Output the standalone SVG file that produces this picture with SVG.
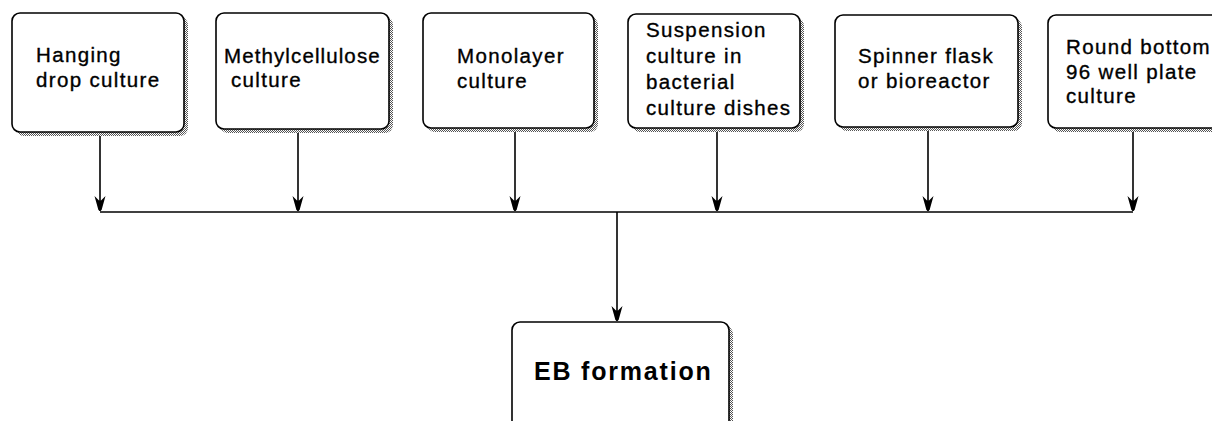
<svg xmlns="http://www.w3.org/2000/svg" width="1212" height="421" viewBox="0 0 1212 421">
<defs>
<pattern id="dots" width="2" height="2" patternUnits="userSpaceOnUse">
<rect width="2" height="2" fill="#fff"/>
<rect width="1" height="1" fill="#555"/>
<rect x="1" y="1" width="1" height="1" fill="#555"/>
</pattern>
<marker id="arr" markerWidth="16" markerHeight="14" viewBox="-16 -7 16 14" refX="0" refY="0" markerUnits="userSpaceOnUse" orient="auto">
<path d="M-15,-5.5 L-10.5,-1 L-10.5,1 L-15,5.5 L-1,1.6 L0,0 L-1,-1.6 Z" fill="#000"/>
</marker>
<style>
.box{fill:#fff;stroke:#000;stroke-width:1.6}
.sh{fill:url(#dots);stroke:none}
.t{font-family:"Liberation Sans",Arial,sans-serif;font-size:20.5px;letter-spacing:1.35px;fill:#000;stroke:#000;stroke-width:0.35}
.tb{font-family:"Liberation Sans",Arial,sans-serif;font-size:25px;font-weight:bold;letter-spacing:1.8px;fill:#000}
.ln{stroke:#000;stroke-width:1.6;fill:none}
</style>
</defs>
<rect width="1212" height="421" fill="#fff"/>
<g id="n1">
<rect class="sh" x="16" y="17" width="172" height="119" rx="8"/>
<rect class="box" x="12" y="13" width="172" height="119" rx="8"/>
<text class="t" x="36" y="62">Hanging</text>
<text class="t" x="36" y="87">drop culture</text>
</g>
<g id="n2">
<rect class="sh" x="220" y="17" width="173" height="116" rx="8"/>
<rect class="box" x="216" y="13" width="173" height="116" rx="8"/>
<text class="t" x="224" y="63" textLength="157" lengthAdjust="spacing">Methylcellulose</text>
<text class="t" x="231" y="87">culture</text>
</g>
<g id="n3">
<rect class="sh" x="427" y="17" width="171" height="115" rx="8"/>
<rect class="box" x="423" y="13" width="171" height="115" rx="8"/>
<text class="t" x="457" y="63">Monolayer</text>
<text class="t" x="457" y="88">culture</text>
</g>
<g id="n4">
<rect class="sh" x="632" y="18" width="172" height="114" rx="8"/>
<rect class="box" x="628" y="14" width="172" height="114" rx="8"/>
<text class="t" x="646" y="37">Suspension</text>
<text class="t" x="646" y="63">culture in</text>
<text class="t" x="646" y="89">bacterial</text>
<text class="t" x="646" y="115">culture dishes</text>
</g>
<g id="n5">
<rect class="sh" x="839" y="19" width="183" height="112" rx="8"/>
<rect class="box" x="835" y="15" width="183" height="112" rx="8"/>
<text class="t" x="858" y="63">Spinner flask</text>
<text class="t" x="858" y="88">or bioreactor</text>
</g>
<g id="n6">
<rect class="sh" x="1052" y="19" width="180" height="113" rx="8"/>
<rect class="box" x="1048" y="15" width="180" height="113" rx="8"/>
<text class="t" x="1066" y="54">Round bottom</text>
<text class="t" x="1066" y="79">96 well plate</text>
<text class="t" x="1066" y="103">culture</text>
</g>
<g id="n7">
<rect class="sh" x="516" y="326" width="217" height="110" rx="8"/>
<rect class="box" x="512" y="322" width="217" height="110" rx="8"/>
<text class="tb" x="534" y="380">EB formation</text>
</g>
<g id="connectors">
<line class="ln" x1="100" y1="136" x2="100" y2="211" marker-end="url(#arr)"/>
<line class="ln" x1="298" y1="133" x2="298" y2="211" marker-end="url(#arr)"/>
<line class="ln" x1="515" y1="132" x2="515" y2="211" marker-end="url(#arr)"/>
<line class="ln" x1="717" y1="132" x2="717" y2="211" marker-end="url(#arr)"/>
<line class="ln" x1="928" y1="131" x2="928" y2="211" marker-end="url(#arr)"/>
<line class="ln" x1="1133" y1="132" x2="1133" y2="211" marker-end="url(#arr)"/>
<line class="ln" x1="100" y1="212" x2="1133" y2="212"/>
<line class="ln" x1="617" y1="212" x2="617" y2="321" marker-end="url(#arr)"/>
</g>
</svg>
